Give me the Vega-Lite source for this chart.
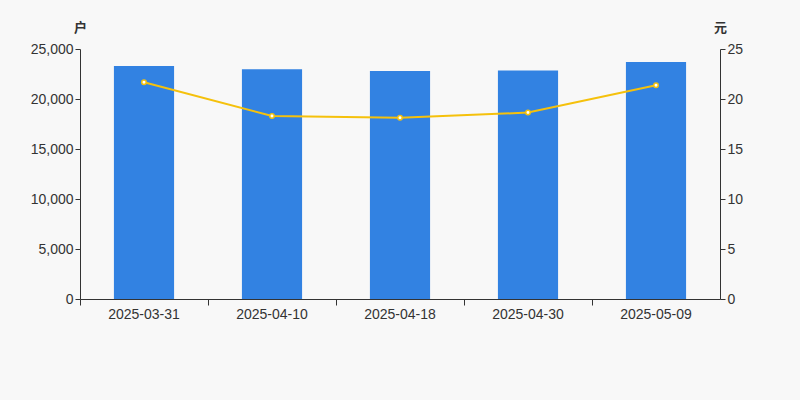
{
  "$schema": "https://vega.github.io/schema/vega-lite/v6.json",
  "width": 640,
  "height": 250,
  "autosize": "none",
  "padding": {"left": 80, "top": 49, "right": 80, "bottom": 101},
  "background": "#f8f8f8",
  "config": {
    "view": {"stroke": null},
    "font": "Liberation Sans",
    "axis": {
      "labelFont": "Liberation Sans",
      "labelFontSize": 14,
      "labelColor": "#333333",
      "domainColor": "#333333",
      "tickColor": "#333333",
      "tickSize": 5,
      "grid": false,
      "titleFont": "Noto Sans CJK SC",
      "titleFontSize": 13,
      "titleFontWeight": "bold",
      "titleColor": "#333333"
    }
  },
  "data": {
    "values": [
      {"date": "2025-03-31", "holders": 23300, "price": 21.68},
      {"date": "2025-04-10", "holders": 22970, "price": 18.31},
      {"date": "2025-04-18", "holders": 22800, "price": 18.12},
      {"date": "2025-04-30", "holders": 22840, "price": 18.64},
      {"date": "2025-05-09", "holders": 23700, "price": 21.38}
    ]
  },
  "encoding": {
    "x": {
      "field": "date",
      "type": "nominal",
      "sort": null,
      "title": null,
      "scale": {"paddingInner": 0, "paddingOuter": 0},
      "axis": {"labelAngle": 0, "bandPosition": 0, "labelPadding": 2, "tickSize": 6}
    }
  },
  "layer": [
    {
      "mark": {"type": "bar", "color": "#3282e2", "width": {"band": 0.47}},
      "encoding": {
        "y": {
          "field": "holders",
          "type": "quantitative",
          "scale": {"domain": [0, 25000]},
          "axis": {
            "title": "户",
            "titleAngle": 0,
            "titleX": 0,
            "titleY": -15,
            "titleAlign": "center",
            "tickCount": 5,
            "format": ",d"
          }
        }
      }
    },
    {
      "mark": {
        "type": "line",
        "color": "#f5c10c",
        "strokeWidth": 2,
        "point": {"filled": true, "fill": "#ffffff", "stroke": "#f5c10c", "strokeWidth": 1.5, "size": 20}
      },
      "encoding": {
        "y": {
          "field": "price",
          "type": "quantitative",
          "scale": {"domain": [0, 25]},
          "axis": {
            "orient": "right",
            "title": "元",
            "titleAngle": 0,
            "titleX": 0,
            "titleY": -15,
            "titleAlign": "center",
            "tickCount": 5
          }
        }
      }
    }
  ],
  "resolve": {"scale": {"y": "independent"}}
}
